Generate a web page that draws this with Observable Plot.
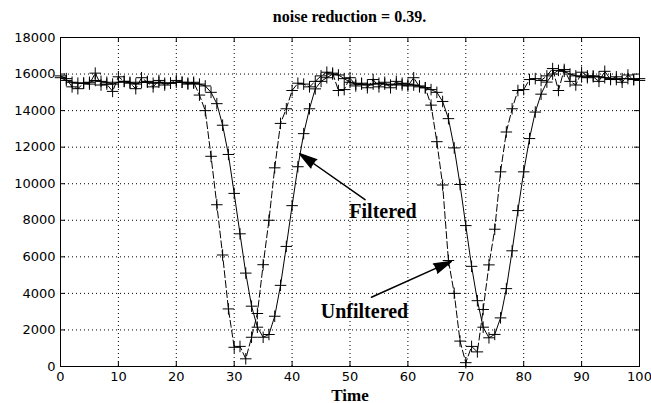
<!DOCTYPE html>
<html><head><meta charset="utf-8">
<script src="https://cdn.jsdelivr.net/npm/d3@7"></script>
<script src="https://cdn.jsdelivr.net/npm/@observablehq/plot@0.6"></script>
<style>
body{margin:0;background:#fff;}
#title{width:651px;height:28px;box-sizing:border-box;padding:6px 12px 0 60px;text-align:center;font-family:"Liberation Serif",serif;font-weight:bold;font-size:16px;line-height:22px;color:#000;}
</style></head><body>
<div id="title"></div>
<div id="chart"></div>
<script>
const titleText = "noise reduction = 0.39.";
const xLabel = "Time";
const time = d3.range(0, 101);
const unfiltered = [
  15900, 15750, 15300, 15200, 15500, 15450, 16050, 15400, 15450, 15050, 15850, 15600, 15500, 15200, 15800, 15550, 15300, 15650, 15400, 15500, 15650, 15550, 15450, 15550,
  14850, 14000, 11500, 8850, 6100, 3150, 1050, 1100, 420, 1600, 2900, 5570, 8000, 10870, 13300, 14100, 15100, 15500, 15450,
  15300, 15600, 15900, 16100, 16050, 15100, 15150, 15800, 15350, 15500, 15250, 15700, 15300, 15550, 15250, 15600, 15400, 15350, 15800, 15300,
  15250, 14300, 12300, 9930, 5800, 4000, 1390, 210, 1100, 800, 3120, 5560, 7510, 10650, 12830, 14100, 15100, 15150,
  15700, 15750, 15650, 15900, 16300, 15100, 16250, 15600, 15400, 16100, 15900, 15850, 15600, 16150, 15700, 15850, 15550, 15950, 15700, 15750
];
const filtered = [
  15800, 15650, 15550, 15500, 15500, 15550, 15650, 15600, 15550, 15450, 15550, 15600, 15550, 15450, 15550, 15600, 15500, 15550, 15500, 15500, 15550, 15550, 15500, 15500,
  15450, 15350, 15000, 14380, 13200, 11600, 9470, 7260, 5110, 3300, 2150, 1600, 1750, 2750, 4440, 6570, 8800, 10930, 12740, 14100, 15190, 15600, 15800,
  16000, 15950, 15750, 15550, 15450, 15450, 15400, 15450, 15500, 15450, 15400, 15450, 15500, 15450, 15400, 15350, 15250, 15150,
  15000, 14500, 13560, 11960, 9960, 7710, 5480, 3600, 2150, 1570, 1755, 2660, 4260, 6330, 8530, 10650, 12470, 13920, 14900, 15560, 16000, 16200,
  16150, 16000, 15900, 15850, 15800, 15900, 15850, 15800, 15750, 15700, 15750, 15750, 15700, 15650
];
const xTicks = [0, 10, 20, 30, 40, 50, 60, 70, 80, 90, 100];
const yTicks = [0, 2000, 4000, 6000, 8000, 10000, 12000, 14000, 16000, 18000];
const annotLabels = ["Filtered", "Unfiltered"];
const annotTextX = [55.7, 52.5];
const annotTextY = [8475, 3025];
const arrowX1 = [52.6, 53.7];
const arrowY1 = [9130, 3790];
const arrowX2 = [41.3, 67.5];
const arrowY2 = [11640, 5750];

document.getElementById("title").textContent = titleText;

const W = 651, H = 375;
const mL = 60, mR = 12, mT = 9, mB = 37;
const pw = W - mL - mR, ph = H - mT - mB;

const rows = time.map((t, i) => ({t, filtered: filtered[i], unfiltered: unfiltered[i]}));
const annots = annotLabels.map((label, i) => ({label, x: annotTextX[i], y: annotTextY[i]}));
const arrows = arrowX1.map((x1, i) => ({x1, y1: arrowY1[i], x2: arrowX2[i], y2: arrowY2[i]}));
const serif = "Liberation Serif";

const chart = Plot.plot({
  width: W, height: H,
  marginLeft: mL, marginRight: mR, marginTop: mT, marginBottom: mB,
  style: {fontFamily: "DejaVu Sans", fontSize: "13px", color: "#000", background: "#fff"},
  x: {domain: [0, 100], ticks: xTicks, tickSize: 0, tickPadding: 5, label: null, tickFormat: d => String(d)},
  y: {domain: [0, 18000], ticks: yTicks, tickSize: 0, tickPadding: 5, label: null, tickFormat: d => String(d)},
  marks: [
    Plot.ruleX(xTicks.slice(1, -1), {stroke: "#000", strokeWidth: 1, strokeDasharray: "1,3"}),
    Plot.ruleY(yTicks.slice(1, -1), {stroke: "#000", strokeWidth: 1, strokeDasharray: "1,3"}),
    Plot.ruleX(xTicks, {stroke: "#000", insetTop: ph - 5}),
    Plot.ruleX(xTicks, {stroke: "#000", insetBottom: ph - 5}),
    Plot.ruleY(yTicks, {stroke: "#000", insetRight: pw - 5}),
    Plot.ruleY(yTicks, {stroke: "#000", insetLeft: pw - 5}),
    Plot.lineY(rows, {x: "t", y: "unfiltered", stroke: "#000", strokeWidth: 1, strokeDasharray: "7,3"}),
    Plot.lineY(rows, {x: "t", y: "filtered", stroke: "#000", strokeWidth: 1}),
    Plot.dot(rows, {x: "t", y: "unfiltered", symbol: "plus", r: 3.8, stroke: "#000", strokeWidth: 1}),
    Plot.dot(rows, {x: "t", y: "filtered", symbol: "plus", r: 3.8, stroke: "#000", strokeWidth: 1}),
    Plot.arrow(arrows, {x1: "x1", y1: "y1", x2: "x2", y2: "y2", stroke: "#000", fill: "#000", strokeWidth: 1.5, headLength: 18, headAngle: 32}),
    Plot.text(annots, {x: "x", y: "y", text: "label", fontFamily: serif, fontWeight: "bold", fontSize: 20, fill: "#000"}),
    Plot.text([xLabel], {frameAnchor: "bottom", dy: 34, text: d => d, fontFamily: serif, fontWeight: "bold", fontSize: 17, fill: "#000"}),
    Plot.frame({stroke: "#000", strokeWidth: 1})
  ]
});
document.getElementById("chart").appendChild(chart);
</script>
</body></html>
